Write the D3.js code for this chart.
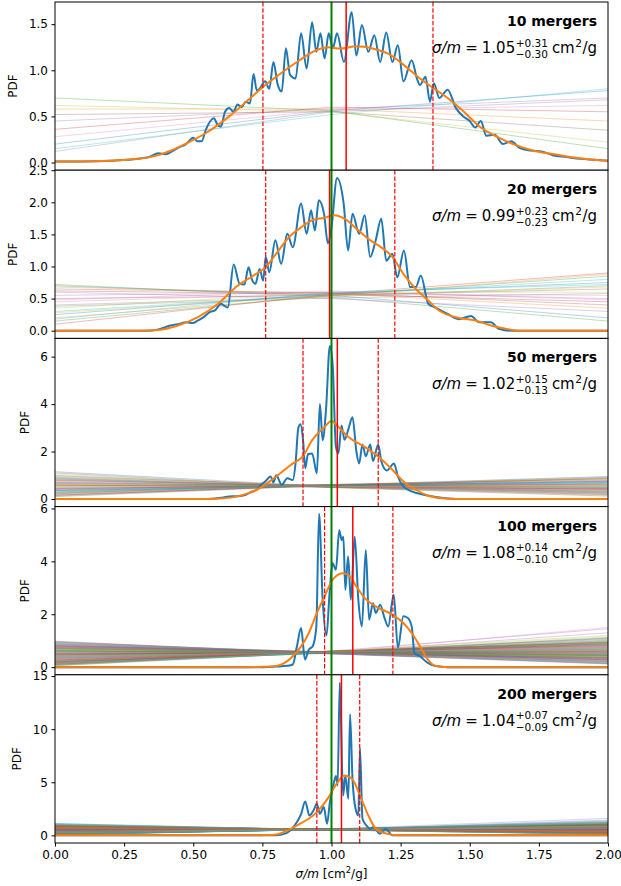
<!DOCTYPE html>
<html>
<head>
<meta charset="utf-8">
<title>sigma/m posteriors</title>
<script src="https://cdn.jsdelivr.net/npm/d3@7"></script>
<style>
    body { margin: 0; background: #fff; }
    svg text { font-family: "DejaVu Sans", sans-serif; fill: #000; }
</style>
</head>
<body>
<script>
// number of mergers per panel
var mergers = [10, 20, 50, 100, 200];

// result text
var vals = ["1.05", "0.99", "1.02", "1.08", "1.04"];
var ups = ["+0.31", "+0.23", "+0.15", "+0.14", "+0.07"];
var dns = ["\u22120.30", "\u22120.23", "\u22120.13", "\u22120.10", "\u22120.09"];

// vertical markers (median, 16th, 84th percentile)
var medians = [1.053, 0.993, 1.021, 1.077, 1.036];
var lows = [0.752, 0.762, 0.897, 0.975, 0.947];
var highs = [1.367, 1.229, 1.169, 1.222, 1.102];
var truth = 1.0;

// y axes
var yLo = [-0.083, -0.12, -0.32, -0.29, -0.72];
var yHi = [1.74, 2.50, 6.77, 6.07, 15.12];
var yTicks = [[0, 0.5, 1, 1.5], [0, 0.5, 1, 1.5, 2, 2.5], [0, 2, 4, 6], [0, 2, 4, 6], [0, 5, 10, 15]];
var yFmt = [".1f", ".1f", "d", "d", "d"];
var xTicks = [0, 0.25, 0.5, 0.75, 1, 1.25, 1.5, 1.75, 2];

// combined posterior (blue) and smoothed (orange), [x, pdf]
var blue10 = [[0,0.01],[0.1,0.012],[0.2,0.02],[0.3,0.04],[0.34,0.06],[0.374,0.10],[0.4,0.09],[0.417,0.11],[0.445,0.16],[0.474,0.20],[0.50,0.27],[0.515,0.23],[0.53,0.23],[0.546,0.36],[0.574,0.48],[0.59,0.40],[0.60,0.39],[0.615,0.55],[0.63,0.59],[0.645,0.55],[0.66,0.63],[0.675,0.60],[0.69,0.66],[0.705,0.64],[0.718,0.96],[0.73,0.78],[0.74,0.80],[0.76,0.88],[0.775,0.80],[0.79,1.09],[0.805,0.85],[0.82,0.77],[0.835,1.24],[0.85,0.95],[0.87,0.91],[0.89,1.40],[0.91,1.02],[0.93,1.52],[0.945,1.2],[0.96,1.4],[0.975,1.13],[0.99,1.40],[1.005,1.24],[1.02,1.40],[1.045,1.09],[1.073,1.63],[1.09,1.16],[1.11,1.49],[1.133,1.2],[1.155,1.38],[1.176,1.09],[1.198,1.41],[1.22,1.09],[1.24,1.27],[1.26,0.88],[1.29,1.11],[1.31,0.90],[1.32,0.84],[1.34,0.93],[1.356,0.66],[1.37,0.86],[1.39,0.70],[1.42,0.79],[1.45,0.59],[1.477,0.50],[1.50,0.45],[1.52,0.38],[1.54,0.45],[1.56,0.29],[1.59,0.30],[1.62,0.20],[1.65,0.23],[1.68,0.16],[1.72,0.13],[1.76,0.12],[1.8,0.08],[1.85,0.06],[1.9,0.04],[1.95,0.03],[2.0,0.02]];
var orange10 = [[0,0.01],[0.1,0.012],[0.23,0.025],[0.3,0.04],[0.374,0.08],[0.42,0.13],[0.47,0.2],[0.546,0.32],[0.63,0.5],[0.718,0.73],[0.752,0.82],[0.80,0.93],[0.875,1.09],[0.947,1.22],[0.99,1.25],[1.03,1.235],[1.09,1.26],[1.15,1.235],[1.205,1.18],[1.262,1.056],[1.32,0.91],[1.367,0.81],[1.42,0.70],[1.477,0.555],[1.534,0.394],[1.605,0.27],[1.66,0.197],[1.735,0.125],[1.806,0.09],[1.877,0.054],[1.95,0.03],[2.0,0.02]];

var blue20 = [[0,0],[0.33,0],[0.374,0.02],[0.417,0.08],[0.445,0.1],[0.474,0.13],[0.5,0.12],[0.517,0.16],[0.54,0.22],[0.56,0.29],[0.58,0.32],[0.60,0.42],[0.625,0.36],[0.646,1.03],[0.668,0.73],[0.685,0.72],[0.70,0.99],[0.712,0.80],[0.725,0.73],[0.74,0.96],[0.753,0.78],[0.762,1.15],[0.775,0.91],[0.797,1.41],[0.818,1.04],[0.84,1.51],[0.86,1.30],[0.89,1.98],[0.91,1.51],[0.926,1.875],[0.94,1.56],[0.954,2.03],[0.973,1.82],[0.987,1.36],[1.0,1.61],[1.02,2.38],[1.044,1.98],[1.06,1.25],[1.076,1.82],[1.1,1.51],[1.12,1.8],[1.14,1.15],[1.16,1.41],[1.18,1.745],[1.198,1.09],[1.22,1.2],[1.238,0.83],[1.262,1.25],[1.284,0.68],[1.305,0.68],[1.323,0.86],[1.35,0.42],[1.376,0.36],[1.42,0.26],[1.46,0.18],[1.505,0.23],[1.534,0.13],[1.577,0.13],[1.605,0.03],[1.65,0],[2,0]];
var orange20 = [[0,0],[0.3,0.0],[0.374,0.01],[0.445,0.08],[0.517,0.21],[0.59,0.42],[0.66,0.70],[0.718,0.86],[0.762,0.99],[0.80,1.2],[0.847,1.46],[0.89,1.61],[0.93,1.72],[0.975,1.76],[1.01,1.80],[1.047,1.745],[1.09,1.59],[1.133,1.43],[1.176,1.31],[1.22,1.15],[1.26,0.885],[1.305,0.65],[1.35,0.47],[1.39,0.31],[1.45,0.21],[1.52,0.16],[1.577,0.08],[1.63,0.03],[1.69,0.0],[2,0]];

var blue50 = [[0,0],[0.55,0],[0.6,0.05],[0.63,0.11],[0.66,0.12],[0.69,0.18],[0.71,0.3],[0.73,0.39],[0.745,0.6],[0.76,0.74],[0.78,0.95],[0.79,0.7],[0.80,1.0],[0.82,0.6],[0.84,0.88],[0.86,0.8],[0.87,1.5],[0.88,3.0],[0.888,3.15],[0.897,2.5],[0.905,1.3],[0.915,1.9],[0.93,1.92],[0.947,1.09],[0.958,4.0],[0.968,2.48],[0.98,3.74],[0.994,6.45],[1.004,5.69],[1.016,2.2],[1.025,1.92],[1.036,3.1],[1.047,2.5],[1.06,2.9],[1.076,3.45],[1.09,2.0],[1.1,1.5],[1.112,2.3],[1.124,1.8],[1.14,2.3],[1.15,1.6],[1.169,2.3],[1.18,1.6],[1.2,1.2],[1.226,1.5],[1.24,0.95],[1.26,0.53],[1.29,0.32],[1.334,0.18],[1.377,0.08],[1.42,0.02],[1.45,0],[2,0]];
var orange50 = [[0,0],[0.55,0],[0.6,0.02],[0.66,0.11],[0.73,0.39],[0.80,0.95],[0.86,1.5],[0.897,1.81],[0.93,2.48],[0.975,3.04],[1.0,3.29],[1.02,3.1],[1.06,2.62],[1.12,2.2],[1.169,1.79],[1.22,1.23],[1.26,0.74],[1.305,0.39],[1.35,0.14],[1.4,0.03],[1.45,0],[2,0]];

var blue100 = [[0,0],[0.75,0],[0.8,0.02],[0.84,0.05],[0.86,0.1],[0.875,0.79],[0.89,1.48],[0.904,0.29],[0.918,0.66],[0.932,0.79],[0.945,1.5],[0.955,5.8],[0.968,2.55],[0.982,1.2],[0.993,2.8],[1.004,3.93],[1.016,3.68],[1.028,5.18],[1.037,4.8],[1.043,4.93],[1.05,2.92],[1.06,4.18],[1.07,2.55],[1.084,4.93],[1.097,2.55],[1.11,1.54],[1.124,4.43],[1.136,1.79],[1.15,2.42],[1.16,2.05],[1.176,2.36],[1.19,1.92],[1.205,1.54],[1.225,2.74],[1.24,0.73],[1.26,1.92],[1.276,1.86],[1.29,1.54],[1.3,0.54],[1.32,0.41],[1.348,0.16],[1.377,0.04],[1.42,0],[2,0]];
var orange100 = [[0,0],[0.7,0],[0.75,0.01],[0.80,0.04],[0.86,0.41],[0.918,1.29],[0.947,2.05],[0.975,2.67],[1.0,3.24],[1.04,3.55],[1.06,3.49],[1.09,3.05],[1.12,2.61],[1.16,2.3],[1.22,1.98],[1.26,1.67],[1.29,1.29],[1.32,0.79],[1.348,0.29],[1.377,0.04],[1.42,0],[2,0]];

var blue200 = [[0,0],[0.8,0],[0.832,0.16],[0.867,0.94],[0.89,2.0],[0.905,3.19],[0.92,1.88],[0.935,2.34],[0.947,2.97],[0.958,2.03],[0.972,2.66],[0.984,1.09],[0.994,3.1],[1.004,4.38],[1.016,5.6],[1.022,4.7],[1.03,14.4],[1.042,3.75],[1.05,5.6],[1.061,3.44],[1.067,11.4],[1.076,5.3],[1.087,2.5],[1.097,1.88],[1.103,8.2],[1.112,1.56],[1.126,0.94],[1.14,0.63],[1.153,0.78],[1.175,0.16],[1.196,0.63],[1.22,0],[2,0]];
var orange200 = [[0,0],[0.7,0],[0.75,0.02],[0.80,0.09],[0.875,0.94],[0.947,2.19],[0.99,3.6],[1.018,4.84],[1.047,5.63],[1.075,5.3],[1.103,3.75],[1.133,1.88],[1.16,0.63],[1.2,0.16],[1.23,0.02],[1.26,0],[2,0]];

// single-merger PDFs, [pdf at 0, pdf at 1, pdf at 2]
var faint10 = [[.20,.56,.78],[.58,.58,.45],[.70,.56,.15],[.36,.60,.55],[.45,.58,.70],[.52,.55,.35],[.28,.57,.62],[.12,.55,.68],[.62,.55,.22],[.15,.52,.80]];
var faint20 = [[.70,.55,.20],[.68,.58,.35],[.72,.52,.15],[.62,.57,.45],[.55,.60,.50],[.50,.55,.65],[.45,.58,.55],[.40,.53,.70],[.35,.60,.60],[.30,.56,.80],
    [.25,.58,.75],[.20,.54,.88],[.15,.55,.85],[.10,.57,.90],[.60,.50,.30],[.65,.59,.40],[.48,.62,.48],[.38,.51,.58],[.28,.55,.68],[.18,.60,.72]];
var faint50 = [[1.15,.52,.20],[.95,.55,.30],[.22,.58,.85],[.60,.50,.45],[.35,.57,.75],[.80,.54,.25],[.12,.60,.92],[.48,.56,.62],[1.05,.49,.15],[.28,.59,.70],
    [.70,.53,.40],[.18,.57,.88],[.88,.52,.33],[.42,.60,.58],[.55,.55,.50],[.25,.61,.80],[1.00,.50,.22],[.65,.56,.48],[.32,.58,.66],[.90,.51,.28],
    [.15,.59,.95],[.75,.54,.38],[.45,.57,.55],[.58,.52,.42],[.38,.62,.72],[.85,.50,.18],[.20,.56,.78],[.68,.55,.52],[.52,.58,.60],[.98,.53,.26],
    [.30,.60,.68],[.62,.51,.35],[.10,.57,.90],[.78,.56,.44],[.40,.55,.64],[1.10,.48,.12],[.50,.59,.57],[.72,.53,.30],[.26,.61,.82],[.82,.52,.36],
    [.36,.56,.74],[.92,.54,.24],[.56,.60,.49],[.16,.58,.86],[.66,.50,.41],[.44,.57,.63],[.84,.55,.32],[.24,.59,.76],[.60,.53,.54],[.34,.56,.69]];
var faint100 = [[.95,.52,.18],[.12,.58,.95],[.70,.55,.35],[.40,.57,.70],[.85,.50,.22],[.25,.60,.85],[.55,.54,.50],[.05,.56,1.10],[.78,.53,.30],[.33,.59,.78],
    [.62,.55,.45],[.18,.57,.92],[.90,.51,.15],[.45,.58,.62],[.08,.61,1.45],[.72,.54,.38],[.28,.56,.80],[.58,.52,.48],[.15,.59,.98],[.82,.55,.26],
    [.38,.57,.66],[.66,.53,.42],[.22,.60,.88],[.98,.50,.12],[.50,.56,.55],[.10,.58,1.05],[.75,.54,.33],[.35,.55,.72],[.60,.57,.46],[.20,.52,.90],
    [.88,.56,.20],[.42,.59,.64],[.68,.54,.40],[.13,.57,1.00],[.52,.55,.52],[.80,.53,.28],[.30,.58,.76],[.64,.51,.44],[.06,.60,1.20],[.92,.55,.16],
    [.36,.56,.68],[.56,.58,.50],[.24,.54,.84],[.76,.57,.32],[.46,.53,.60],[.16,.59,.94],[.86,.52,.24],[.32,.56,.74],[.70,.58,.36],[.11,.55,1.02],
    [.48,.57,.58],[.84,.54,.22],[.26,.60,.82],[.62,.52,.43],[.09,.56,1.30],[.74,.55,.34],[.39,.58,.68],[.57,.53,.49],[.19,.57,.90],[.94,.51,.14],
    [.44,.55,.62],[.66,.59,.41],[.14,.54,.96],[.79,.56,.29],[.34,.58,.73],[.53,.52,.53],[.23,.57,.86],[.87,.55,.21],[.41,.60,.65],[.07,.56,1.12],
    [.69,.53,.37],[.29,.58,.79],[.59,.55,.47],[.17,.61,.93],[.83,.54,.25],[.47,.56,.59],[.12,.57,1.50],[.73,.52,.35],[.37,.59,.70],[.63,.55,.44],
    [.21,.54,.87],[.91,.57,.17],[.49,.56,.57],[.27,.58,.81],[.77,.53,.31],[.10,.60,1.08],[.54,.55,.51],[.31,.57,.77],[.67,.54,.39],[.16,.56,.95],
    [.81,.58,.27],[.43,.53,.63],[.61,.56,.45],[.20,.59,.89],[.96,.52,.13],[.51,.55,.54],[.33,.57,.75],[.71,.54,.37],[.08,.58,1.15],[.40,.56,.67]];
var faint200 = [[1.10,.52,.12],[.15,.58,1.00],[.62,.55,.42],[.35,.57,.75],[.88,.51,.20],[.22,.60,.90],[.50,.54,.55],[.06,.56,1.20],[.75,.53,.30],[.42,.59,.66],
    [.66,.55,.40],[.12,.57,1.05],[.95,.50,.16],[.30,.58,.80],[.09,.61,1.60],[.70,.54,.36],[.26,.56,.84],[.56,.52,.50],[.18,.59,.96],[.84,.55,.24],
    [.40,.57,.68],[.64,.53,.44],[.20,.60,.92],[1.02,.50,.10],[.48,.56,.58],[.08,.58,1.12],[.78,.54,.31],[.33,.55,.74],[.58,.57,.47],[.24,.52,.88],
    [.90,.56,.19],[.44,.59,.63],[.72,.54,.38],[.14,.57,1.02],[.54,.55,.53],[.82,.53,.27],[.28,.58,.79],[.60,.51,.46],[.07,.60,1.25],[.98,.55,.14],
    [.37,.56,.70],[.52,.58,.56],[.23,.54,.86],[.80,.57,.29],[.46,.53,.61],[.17,.59,.97],[.86,.52,.22],[.31,.56,.77],[.68,.58,.39],[.11,.55,1.08],
    [.49,.57,.57],[.92,.54,.18],[.27,.60,.83],[.63,.52,.43],[.10,.56,1.35],[.76,.55,.33],[.39,.58,.69],[.57,.53,.49],[.21,.57,.91],[1.05,.51,.12],
    [.45,.55,.62],[.67,.59,.41],[.13,.54,.99],[.81,.56,.28],[.34,.58,.73],[.53,.52,.54],[.25,.57,.85],[.89,.55,.21],[.41,.60,.66],[.05,.56,1.18],
    [.71,.53,.37],[.29,.58,.80],[.59,.55,.47],[.16,.61,.95],[.85,.54,.25],[.47,.56,.60],[.12,.57,1.40],[.74,.52,.34],[.36,.59,.71],[.65,.55,.43],
    [.22,.54,.87],[.94,.57,.17],[.50,.56,.56],[.28,.58,.81],[.79,.53,.30],[.09,.60,1.10],[.55,.55,.52],[.32,.57,.76],[.69,.54,.39],[.15,.56,.98],
    [.83,.58,.26],[.43,.53,.64],[.61,.56,.45],[.19,.59,.90],[1.00,.52,.13],[.51,.55,.55],[.35,.57,.74],[.73,.54,.35],[.08,.58,1.15],[.40,.56,.68],
    [.60,.54,.46],[.14,.59,1.00],[.87,.52,.21],[.38,.57,.70],[.70,.55,.37],[.25,.58,.86],[.52,.53,.54],[.06,.60,1.22],[.93,.55,.17],[.46,.56,.60],
    [.30,.57,.78],[.77,.54,.31],[.18,.58,.94],[.57,.52,.49],[.11,.56,1.07],[.84,.55,.24],[.42,.59,.65],[.66,.53,.41],[.23,.57,.88],[1.08,.50,.11],
    [.48,.56,.58],[.20,.58,.91],[.74,.54,.34],[.33,.55,.75],[.62,.57,.44],[.10,.59,1.12],[.89,.53,.20],[.37,.56,.71],[.54,.58,.52],[.27,.54,.83],
    [.80,.55,.28],[.44,.57,.63],[.13,.56,1.03],[.68,.52,.40],[.31,.59,.77],[.96,.54,.15],[.51,.55,.55],[.21,.58,.89],[.76,.56,.32],[.07,.57,1.30],
    [.58,.53,.48],[.35,.60,.72],[.86,.55,.23],[.16,.57,.97],[.47,.54,.59],[.71,.56,.36],[.26,.58,.84],[.63,.52,.43],[.09,.59,1.16],[.91,.55,.19],
    [.39,.56,.69],[.55,.58,.51],[.19,.54,.92],[.82,.57,.27],[.43,.53,.64],[.12,.60,1.04],[.67,.55,.40],[.29,.56,.79],[.99,.52,.14],[.50,.57,.57],
    [.24,.58,.86],[.73,.54,.35],[.36,.55,.73],[.60,.57,.46],[.14,.59,1.01],[.88,.53,.22],[.45,.56,.62],[.32,.58,.76],[.78,.54,.30],[.08,.57,1.20],
    [.53,.55,.53],[.20,.57,.90],[.69,.53,.38],[.40,.59,.67],[.94,.55,.16],[.17,.56,.95],[.61,.58,.45],[.34,.54,.74],[.85,.57,.24],[.11,.55,1.09],
    [.47,.56,.60],[.75,.54,.33],[.27,.59,.82],[.64,.52,.42],[.05,.57,1.26],[.90,.55,.18],[.41,.58,.66],[.57,.53,.50],[.22,.56,.88],[1.12,.51,.10],
    [.44,.57,.61],[.66,.55,.41],[.15,.58,.99],[.81,.54,.28],[.36,.56,.72],[.52,.59,.54],[.25,.53,.85],[.72,.56,.36],[.38,.57,.70],[.13,.55,1.45]];

var faintSets = [faint10, faint20, faint50, faint100, faint200];
var blueSets = [blue10, blue20, blue50, blue100, blue200];
var orangeSets = [orange10, orange20, orange50, orange100, orange200];

var tab10 = ["#1f77b4", "#ff7f0e", "#2ca02c", "#d62728", "#9467bd", "#8c564b", "#e377c2", "#7f7f7f", "#bcbd22", "#17becf"];

//--------------------------------
var W = 621, H = 886;
var left = 55, right = 608, top0 = 2, bottom = 843;
var plotW = right - left;
var panelH = (bottom - top0) / 5;

var svg = d3.select("body").append("svg")
    .attr("width", W)
    .attr("height", H);

var x = d3.scaleLinear().domain([0, 2]).range([0, plotW]);

mergers.forEach(function(n, i) {
    var top = top0 + i * panelH;
    var y = d3.scaleLinear().domain([yLo[i], yHi[i]]).range([panelH, 0]);
    var g = svg.append("g").attr("transform", "translate(" + left + "," + top + ")");

    g.append("rect").attr("width", plotW).attr("height", panelH).attr("fill", "white");
    g.append("clipPath").attr("id", "clip" + i)
        .append("rect").attr("width", plotW).attr("height", panelH);

    var plot = g.append("g").attr("clip-path", "url(#clip" + i + ")");

    // single merger lines
    var faintLine = d3.line()
        .x(function(d, k) { return x(k); })
        .y(function(d) { return y(d); });
    plot.selectAll(".faint").data(faintSets[i]).enter().append("path")
        .attr("class", "faint")
        .attr("d", faintLine)
        .attr("fill", "none")
        .attr("stroke", function(d, k) { return tab10[k % 10]; })
        .attr("stroke-width", 1)
        .attr("stroke-opacity", 0.32);

    var curve = d3.line()
        .x(function(d) { return x(d[0]); })
        .y(function(d) { return y(d[1]); })
        .curve(d3.curveMonotoneX);

    plot.append("path").attr("d", curve(blueSets[i]))
        .attr("fill", "none").attr("stroke", "#1f77b4").attr("stroke-width", 2);
    plot.append("path").attr("d", curve(orangeSets[i]))
        .attr("fill", "none").attr("stroke", "#ff7f0e").attr("stroke-width", 2);

    // percentiles, median, truth
    [lows[i], highs[i]].forEach(function(v) {
        plot.append("line")
            .attr("x1", x(v)).attr("x2", x(v)).attr("y1", 0).attr("y2", panelH)
            .attr("stroke", "#ff0000").attr("stroke-width", 1.2).attr("stroke-dasharray", "4.4,1.9");
    });
    plot.append("line")
        .attr("x1", x(medians[i])).attr("x2", x(medians[i])).attr("y1", 0).attr("y2", panelH)
        .attr("stroke", "#ff0000").attr("stroke-width", 1.5);
    plot.append("line")
        .attr("x1", x(truth)).attr("x2", x(truth)).attr("y1", 0).attr("y2", panelH)
        .attr("stroke", "green").attr("stroke-width", 2);

    g.append("rect").attr("width", plotW).attr("height", panelH)
        .attr("fill", "none").attr("stroke", "#000").attr("stroke-width", 1);

    // y axis
    var ax = g.append("g").call(d3.axisLeft(y).tickValues(yTicks[i])
        .tickFormat(d3.format(yFmt[i])).tickSize(3.5).tickPadding(3.5));
    ax.select(".domain").remove();
    ax.attr("font-size", 12).attr("font-family", null);
    ax.selectAll("line").attr("stroke", "#000");

    var maxW = 0;
    ax.selectAll("text").each(function() {
        maxW = Math.max(maxW, this.getComputedTextLength());
    });
    g.append("text")
        .attr("transform", "translate(" + (-7 - maxW - 16) + "," + (panelH / 2) + ") rotate(-90)")
        .attr("text-anchor", "middle").attr("dy", "0.35em")
        .attr("font-size", 12)
        .text("PDF");

    // labels
    g.append("text")
        .attr("x", plotW - 11).attr("y", 24)
        .attr("text-anchor", "end").attr("font-size", 14).attr("font-weight", "bold")
        .text(n + " mergers");
    addFormula(g, plotW - 11, 51, vals[i], ups[i], dns[i]);

    if (i == mergers.length - 1) {
        var xa = g.append("g").attr("transform", "translate(0," + panelH + ")")
            .call(d3.axisBottom(x).tickValues(xTicks).tickFormat(d3.format(".2f"))
                .tickSize(3.5).tickPadding(3.5));
        xa.select(".domain").remove();
        xa.attr("font-size", 12).attr("font-family", null);
        xa.selectAll("line").attr("stroke", "#000");

        var xl = g.append("text")
            .attr("x", plotW / 2).attr("y", panelH + 35)
            .attr("text-anchor", "middle").attr("font-size", 12);
        xl.append("tspan").attr("font-style", "italic").text("\u03c3/m");
        xl.append("tspan").text(" [cm");
        xl.append("tspan").attr("dy", -5).attr("font-size", 8.5).text("2");
        xl.append("tspan").attr("dy", 5).text("/g]");
    }
});

function addFormula(g, xr, yb, val, up, dn) {
    var f = g.append("g").attr("font-size", 15);
    var cx = 0;
    function put(txt, dx, dy, size, italic) {
        var t = f.append("text").attr("x", cx + dx).attr("y", dy).text(txt);
        if (size) t.attr("font-size", size);
        if (italic) t.attr("font-style", "italic");
        return t.node().getComputedTextLength();
    }
    cx += put("\u03c3/m", 0, 0, null, true) + 4;
    cx += put("=", 0, 0) + 4;
    cx += put(val, 0, 0) + 0.5;
    var w1 = put(up, 0, -6.5, 10.5);
    var w2 = put(dn, 0, 5, 10.5);
    cx += Math.max(w1, w2) + 4;
    cx += put("cm", 0, 0);
    cx += put("2", 0.5, -6.5, 10.5) + 1;
    cx += put("/g", 0, 0);
    f.attr("transform", "translate(" + (xr - cx) + "," + yb + ")");
}
</script>
</body>
</html>
